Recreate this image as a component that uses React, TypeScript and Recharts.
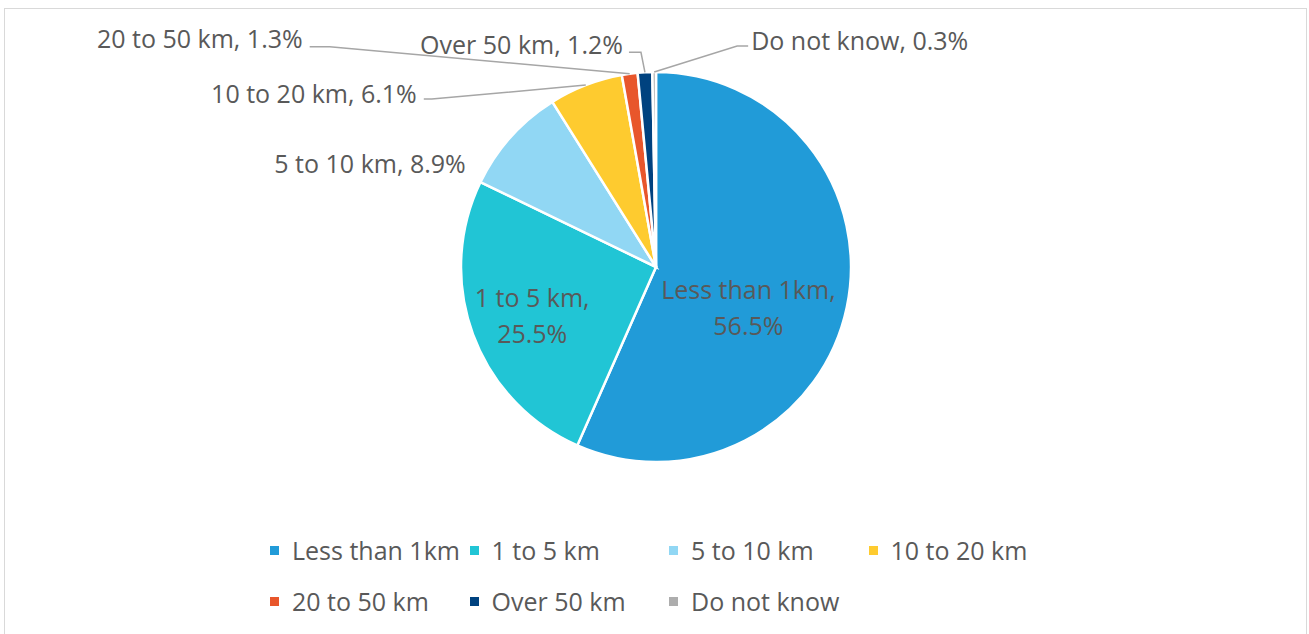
import { PieChart, Pie, Cell, Legend } from "recharts";

const categories = [
  "Less than 1km",
  "1 to 5 km",
  "5 to 10 km",
  "10 to 20 km",
  "20 to 50 km",
  "Over 50 km",
  "Do not know",
];
const shares = [56.5, 25.5, 8.9, 6.1, 1.3, 1.2, 0.3];
const sliceColors = ["#219BD8", "#21C5D5", "#91D7F4", "#FECB2F", "#E8562B", "#00427F", "#ADADAD"];

const data = categories.map((name, i) => ({ name, value: shares[i] }));

const W = 1309;
const H = 634;
const FONT = "'Open Sans', 'Noto Sans', sans-serif";
const FS = 25;
const TEXT = "#595959";
const LEADER = "#A6A6A6";
const RAD = Math.PI / 180;

// label placement, relative to the slice (inside: along the radius; outside: from the arc edge)
type LabelPos =
  | { kind: "inside"; k: number; dx: number; dy: number }
  | { kind: "outside"; tx: number; ty: number; anchor: "start" | "end"; line?: [number, number][] };

const labelLayout: LabelPos[] = [
  { kind: "inside", k: 0.5, dx: -3, dy: 20 },
  { kind: "inside", k: 0.6, dx: -14, dy: 8 },
  { kind: "outside", tx: -45, ty: 26, anchor: "end" },
  { kind: "outside", tx: -169, ty: 8, anchor: "end", line: [[-154, 14], [-162, 14]] },
  { kind: "outside", tx: -327, ty: -36, anchor: "end", line: [[-300, -27], [-320, -27]] },
  { kind: "outside", tx: -22, ty: -28, anchor: "end", line: [[-4, -20], [-16, -20]] },
  { kind: "outside", tx: 97, ty: -32, anchor: "start", line: [[83, -26], [94, -26]] },
];

const renderLabel = (props: any) => {
  const { cx, cy, midAngle, outerRadius, index, name, value } = props;
  const cfg = labelLayout[index];
  const cos = Math.cos(-midAngle * RAD);
  const sin = Math.sin(-midAngle * RAD);
  const pct = `${Number(value).toFixed(1)}%`;
  if (cfg.kind === "inside") {
    const x = cx + outerRadius * cfg.k * cos + cfg.dx;
    const y = cy + outerRadius * cfg.k * sin + cfg.dy;
    return (
      <text x={x} y={y} fill={TEXT} fontSize={FS} fontFamily={FONT} textAnchor="middle">
        <tspan x={x} y={y - 18} dominantBaseline="central">{`${name},`}</tspan>
        <tspan x={x} y={y + 18} dominantBaseline="central">{pct}</tspan>
      </text>
    );
  }
  const ex = cx + outerRadius * cos;
  const ey = cy + outerRadius * sin;
  const pts = cfg.line ? [[0, 0], ...cfg.line].map(([a, b]) => `${ex + a},${ey + b}`).join(" ") : null;
  return (
    <g>
      {pts && <polyline points={pts} fill="none" stroke={LEADER} strokeWidth={1.5} />}
      <text
        x={ex + cfg.tx}
        y={ey + cfg.ty}
        fill={TEXT}
        fontSize={FS}
        fontFamily={FONT}
        textAnchor={cfg.anchor}
        dominantBaseline="central"
      >
        {`${name}, ${pct}`}
      </text>
    </g>
  );
};

const renderLegend = () => (
  <div
    style={{
      display: "grid",
      gridTemplateColumns: "repeat(4, 199.5px)",
      rowGap: 19,
      marginLeft: 270,
      fontFamily: FONT,
      fontSize: FS,
      color: TEXT,
    }}
  >
    {categories.map((name, i) => (
      <div key={name} style={{ display: "flex", alignItems: "center", height: 32, whiteSpace: "nowrap" }}>
        <span style={{ width: 9, height: 9, background: sliceColors[i], marginRight: 13, flexShrink: 0 }} />
        {name}
      </div>
    ))}
  </div>
);

export default function App() {
  return (
    <div style={{ position: "absolute", left: 0, top: 0, width: W, height: H, background: "#fff", overflow: "hidden" }}>
      <style>{`body{margin:0}`}</style>
      <div
        style={{
          position: "absolute",
          left: 4,
          top: 8,
          width: W - 6,
          height: H + 10,
          border: "1.5px solid #D9D9D9",
          boxSizing: "border-box",
        }}
      />
      <PieChart
        width={W}
        height={H}
        margin={{ top: 0, right: 0, bottom: 0, left: 0 }}
        style={{ position: "absolute", left: 0, top: 0 }}
      >
        <Pie
          data={data}
          dataKey="value"
          nameKey="name"
          cx={656}
          cy={267}
          outerRadius={195}
          startAngle={90}
          endAngle={-270}
          stroke="#FFFFFF"
          strokeWidth={2.5}
          label={renderLabel}
          labelLine={false}
          isAnimationActive={false}
        >
          {data.map((_, i) => (
            <Cell key={i} fill={sliceColors[i]} />
          ))}
        </Pie>
        <Legend content={renderLegend} wrapperStyle={{ left: 0, top: 534, width: W }} />
      </PieChart>
    </div>
  );
}
